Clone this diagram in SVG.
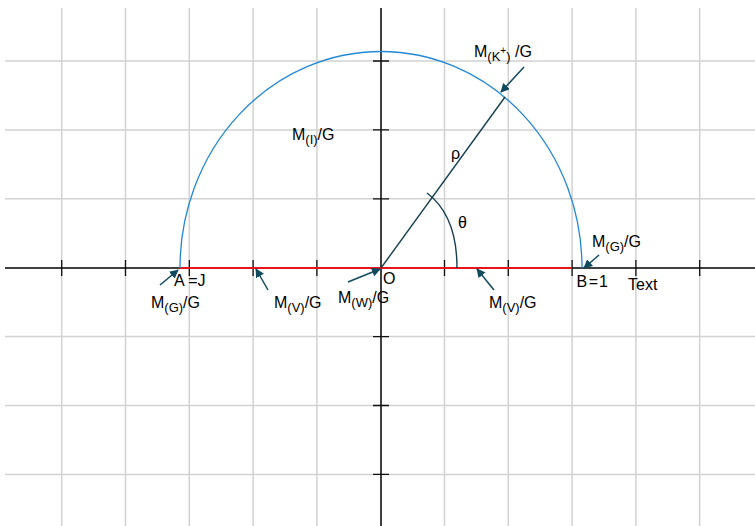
<svg xmlns="http://www.w3.org/2000/svg" width="755" height="526" viewBox="0 0 755 526">
<style>
.grid{stroke:#d2d2d2;stroke-width:1.5;fill:none}
.axis{stroke:#000;stroke-width:1.5;fill:none}
.tick{stroke:#111;stroke-width:1.3;fill:none}
.arr{stroke:#0f4a5e;stroke-width:1.5;fill:none}
text{font-family:"Liberation Sans",Arial,sans-serif;font-size:16px;fill:#000}
.sub{font-size:13px}
</style>
<defs>
<marker id="ah" viewBox="0 0 10 10" refX="9" refY="5" markerWidth="9" markerHeight="9" markerUnits="userSpaceOnUse" orient="auto">
<path d="M0,0 L10,5 L0,10 Z" fill="#0f4a5e"/>
</marker>
</defs>
<rect width="755" height="526" fill="#fff"/>
<g id="grid" class="grid">
<path d="M61.7,8V526M125.5,8V526M189.3,8V526M253.1,8V526M316.9,8V526M444.5,8V526M508.3,8V526M572.1,8V526M635.9,8V526M699.7,8V526"/>
<path d="M5,61H755M5,129.9H755M5,198.8H755M5,336.6H755M5,405.5H755M5,474.4H755"/>
</g>
<g id="axes">
<path class="axis" d="M5,268H755"/>
<path class="axis" d="M381,8V526"/>
<path class="tick" d="M61.7,260V276M125.5,260V276M189.3,260V276M253.1,260V276M316.9,260V276M444.5,260V276M508.3,260V276M572.1,260V276M635.9,260V276M699.7,260V276"/>
<path class="tick" d="M373,61H389M373,129.9H389M373,198.8H389M373,336.6H389M373,405.5H389M373,474.4H389"/>
</g>
<g id="diameter">
<path d="M180,268H572" stroke="#e8141c" stroke-width="2" fill="none"/>
</g>
<g id="arc">
<path d="M180,268 A201,216.5 0 0 1 582,268" stroke="#2288d6" stroke-width="1.3" fill="none"/>
</g>
<g id="radius">
<path d="M381,268 L505,97" stroke="#163f50" stroke-width="1.4" fill="none"/>
<path d="M427,193 C447,208 457,232 457,268" stroke="#163f50" stroke-width="1.4" fill="none"/>
</g>
<g id="connectors">
<path class="arr" d="M160,285 L178,270" marker-end="url(#ah)"/>
<path class="arr" d="M268,290 L256,269" marker-end="url(#ah)"/>
<path class="arr" d="M348,282 L380,269" marker-end="url(#ah)"/>
<path class="arr" d="M494,290 L477,269" marker-end="url(#ah)"/>
<path class="arr" d="M599,255 L584,268" marker-end="url(#ah)"/>
<path class="arr" d="M524,67 L501,92" marker-end="url(#ah)"/>
</g>
<g id="labels">
<text x="174" y="286">A =J</text>
<text x="151" y="308">M<tspan class="sub" dy="4">(G)</tspan><tspan dy="-4">/G</tspan></text>
<text x="274" y="307.5">M<tspan class="sub" dy="4">(V)</tspan><tspan dy="-4">/G</tspan></text>
<text x="338" y="303">M<tspan class="sub" dy="4">(W)</tspan><tspan dy="-4">/G</tspan></text>
<text x="383" y="283.5">O</text>
<text x="489" y="307.5">M<tspan class="sub" dy="4">(V)</tspan><tspan dy="-4">/G</tspan></text>
<text x="576.5" y="286.5">B<tspan dx="1.5">=</tspan><tspan dx="1">1</tspan></text>
<text x="628" y="290">Text</text>
<text x="592" y="246.5">M<tspan class="sub" dy="4">(G)</tspan><tspan dy="-4">/G</tspan></text>
<text x="474" y="57">M<tspan class="sub" dy="4">(K</tspan><tspan font-size="10" dy="-7">+</tspan><tspan class="sub" dy="7">)</tspan><tspan dy="-4"> /G</tspan></text>
<text x="292" y="139.5">M<tspan class="sub" dy="4">(I)</tspan><tspan dy="-4">/G</tspan></text>
<text x="451" y="158.5">ρ</text>
<text x="458" y="228">θ</text>
</g>
</svg>
